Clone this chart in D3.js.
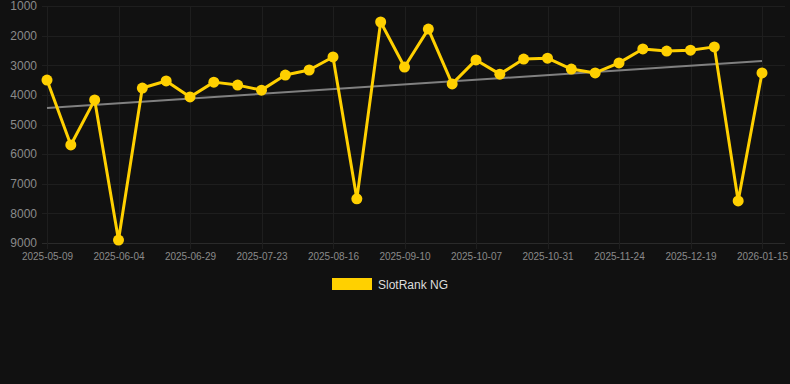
<!DOCTYPE html>
<html>
<head>
<meta charset="utf-8">
<script src="https://cdn.jsdelivr.net/npm/d3@7"></script>
<style>
  html, body { margin: 0; padding: 0; background: #111111; }
  svg { display: block; font-family: "Liberation Sans", Arial, sans-serif; }
</style>
</head>
<body>
<svg id="chart" width="790" height="384"></svg>
<script>
// dates for each point (every 3rd one is shown as a tick)
var dates = [
  "2025-05-09", "2025-05-18", "2025-05-26", "2025-06-04", "2025-06-12", "2025-06-20",
  "2025-06-29", "2025-07-07", "2025-07-15", "2025-07-23", "2025-07-31", "2025-08-08",
  "2025-08-16", "2025-08-24", "2025-09-01", "2025-09-10", "2025-09-19", "2025-09-28",
  "2025-10-07", "2025-10-15", "2025-10-23", "2025-10-31", "2025-11-08", "2025-11-16",
  "2025-11-24", "2025-12-02", "2025-12-10", "2025-12-19", "2025-12-28", "2026-01-06",
  "2026-01-15"
];
var rank = [
  3500, 5690, 4170, 8900, 3770, 3530, 4070, 3570, 3670, 3840, 3330,
  3160, 2720, 7510, 1540, 3060, 1780, 3630, 2820, 3300, 2790, 2760,
  3130, 3260, 2920, 2450, 2520, 2490, 2380, 7580, 3260
];
var trend = [4440, 2860]; // trend line value at first and last date
var yTicks = [1000, 2000, 3000, 4000, 5000, 6000, 7000, 8000, 9000];
var seriesName = "SlotRank NG";

var yellow = "#ffd000";
var svg = d3.select("#chart");

var mLeft = 42, mRight = 785, mTop = 6, mBottom = 243;

var x = d3.scalePoint().domain(d3.range(dates.length)).range([47, 762]);
var y = d3.scaleLinear().domain([1000, 9000]).range([mTop, mBottom]);

var tickIdx = d3.range(0, dates.length, 3);

// grid
var grid = svg.append("g");
grid.selectAll(".hg").data(yTicks).enter().append("line")
  .attr("x1", mLeft).attr("x2", mRight)
  .attr("y1", function(d) { return Math.round(y(d)) + 0.5; })
  .attr("y2", function(d) { return Math.round(y(d)) + 0.5; })
  .attr("stroke", function(d) { return d == 9000 ? "#2a2a2a" : "#1e1e1e"; })
  .attr("stroke-width", 1);
grid.selectAll(".vg").data(tickIdx).enter().append("line")
  .attr("x1", function(d) { return Math.round(x(d)) + 0.5; })
  .attr("x2", function(d) { return Math.round(x(d)) + 0.5; })
  .attr("y1", mTop).attr("y2", mBottom + 6)
  .attr("stroke", "#1e1e1e").attr("stroke-width", 1);

// y axis labels
var yAxis = svg.append("g")
  .attr("transform", "translate(" + (mLeft - 5) + ",0)")
  .call(d3.axisLeft(y).tickValues(yTicks).tickSize(0).tickPadding(0).tickFormat(d3.format("d")));
yAxis.select(".domain").remove();
yAxis.selectAll("text").attr("fill", "#8a8a8a").style("font-size", "12px")
  .style("font-family", "Liberation Sans, Arial, sans-serif");

// x axis labels
var xAxis = svg.append("g")
  .attr("transform", "translate(0," + (mBottom + 10) + ")")
  .call(d3.axisBottom(x).tickValues(tickIdx).tickSize(0).tickPadding(0)
    .tickFormat(function(i) { return dates[i]; }));
xAxis.select(".domain").remove();
xAxis.selectAll("text").attr("fill", "#8a8a8a").style("font-size", "10px")
  .style("font-family", "Liberation Sans, Arial, sans-serif");

// trend line
svg.append("line")
  .attr("x1", x(0)).attr("x2", x(dates.length - 1))
  .attr("y1", y(trend[0])).attr("y2", y(trend[1]))
  .attr("stroke", "#808080").attr("stroke-width", 2);

// series line
var line = d3.line()
  .x(function(d, i) { return x(i); })
  .y(function(d) { return y(d); });

svg.append("path")
  .datum(rank)
  .attr("fill", "none")
  .attr("stroke", yellow)
  .attr("stroke-width", 3)
  .attr("stroke-linejoin", "round")
  .attr("d", line);

svg.selectAll(".pt").data(rank).enter().append("circle")
  .attr("cx", function(d, i) { return x(i); })
  .attr("cy", function(d) { return y(d); })
  .attr("r", 5.5)
  .attr("fill", yellow);

// legend
svg.append("rect")
  .attr("x", 332).attr("y", 278).attr("width", 40).attr("height", 12)
  .attr("fill", yellow);
svg.append("text")
  .attr("x", 378).attr("y", 289)
  .attr("fill", "#dddddd")
  .style("font-size", "12px")
  .text(seriesName);
</script>
</body>
</html>
